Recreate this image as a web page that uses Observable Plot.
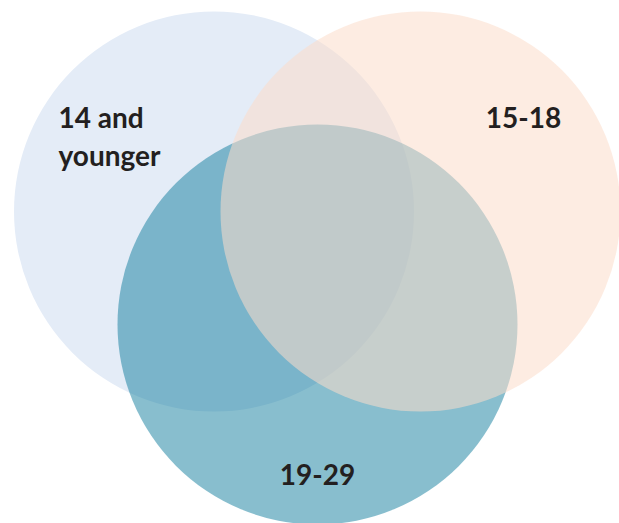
<!DOCTYPE html>
<html>
<head>
<meta charset="utf-8">
<script src="https://cdn.jsdelivr.net/npm/d3@7"></script>
<script src="https://cdn.jsdelivr.net/npm/@observablehq/plot@0.6"></script>
<style>
  html, body { margin: 0; padding: 0; background: #ffffff; }
  #chart svg { display: block; }
</style>
</head>
<body>
<div id="chart"></div>
<script>
// Venn sets (layout in units of circle radius)
const sets = ["14 and younger", "19-29", "15-18"];
const setX = [0, 0.5175, 1.0325];
const setY = [0, -0.565, 0];
const setColors = ["#e4ecf7", "#077899", "#fbdcca"];
const setOpacity = [1, 0.48, 0.55];

// Labels
const labels = ["14 and\nyounger", "15-18", "19-29"];
const labelX = [-0.7775, 1.5475, 0.5175];
const labelY = [0.55, 0.55, -1.235];
const labelAnchor = ["start", "middle", "middle"];

const circles = sets.map((s, i) => ({set: s, x: setX[i], y: setY[i], color: setColors[i], op: setOpacity[i]}));
const texts = labels.map((t, i) => ({text: t, x: labelX[i], y: labelY[i], anchor: labelAnchor[i]}));

const chart = Plot.plot({
  width: 619,
  height: 523,
  margin: 0,
  x: {domain: [-1.0675, 2.0275], axis: null},
  y: {domain: [-1.56, 1.055], axis: null},
  style: {background: "#ffffff"},
  marks: [
    ...circles.map(c => Plot.dot([c], {x: "x", y: "y", r: 200, fill: c.color, fillOpacity: c.op, stroke: null})),
    ...["start", "middle"].map(a => Plot.text(texts.filter(t => t.anchor === a), {
      x: "x", y: "y", text: "text",
      textAnchor: a,
      lineAnchor: "top",
      lineHeight: 1.34,
      fontSize: 28,
      fontWeight: "bold",
      fontFamily: "Lato",
      fill: "#231f20"
    }))
  ]
});
document.getElementById("chart").appendChild(chart);
</script>
</body>
</html>
